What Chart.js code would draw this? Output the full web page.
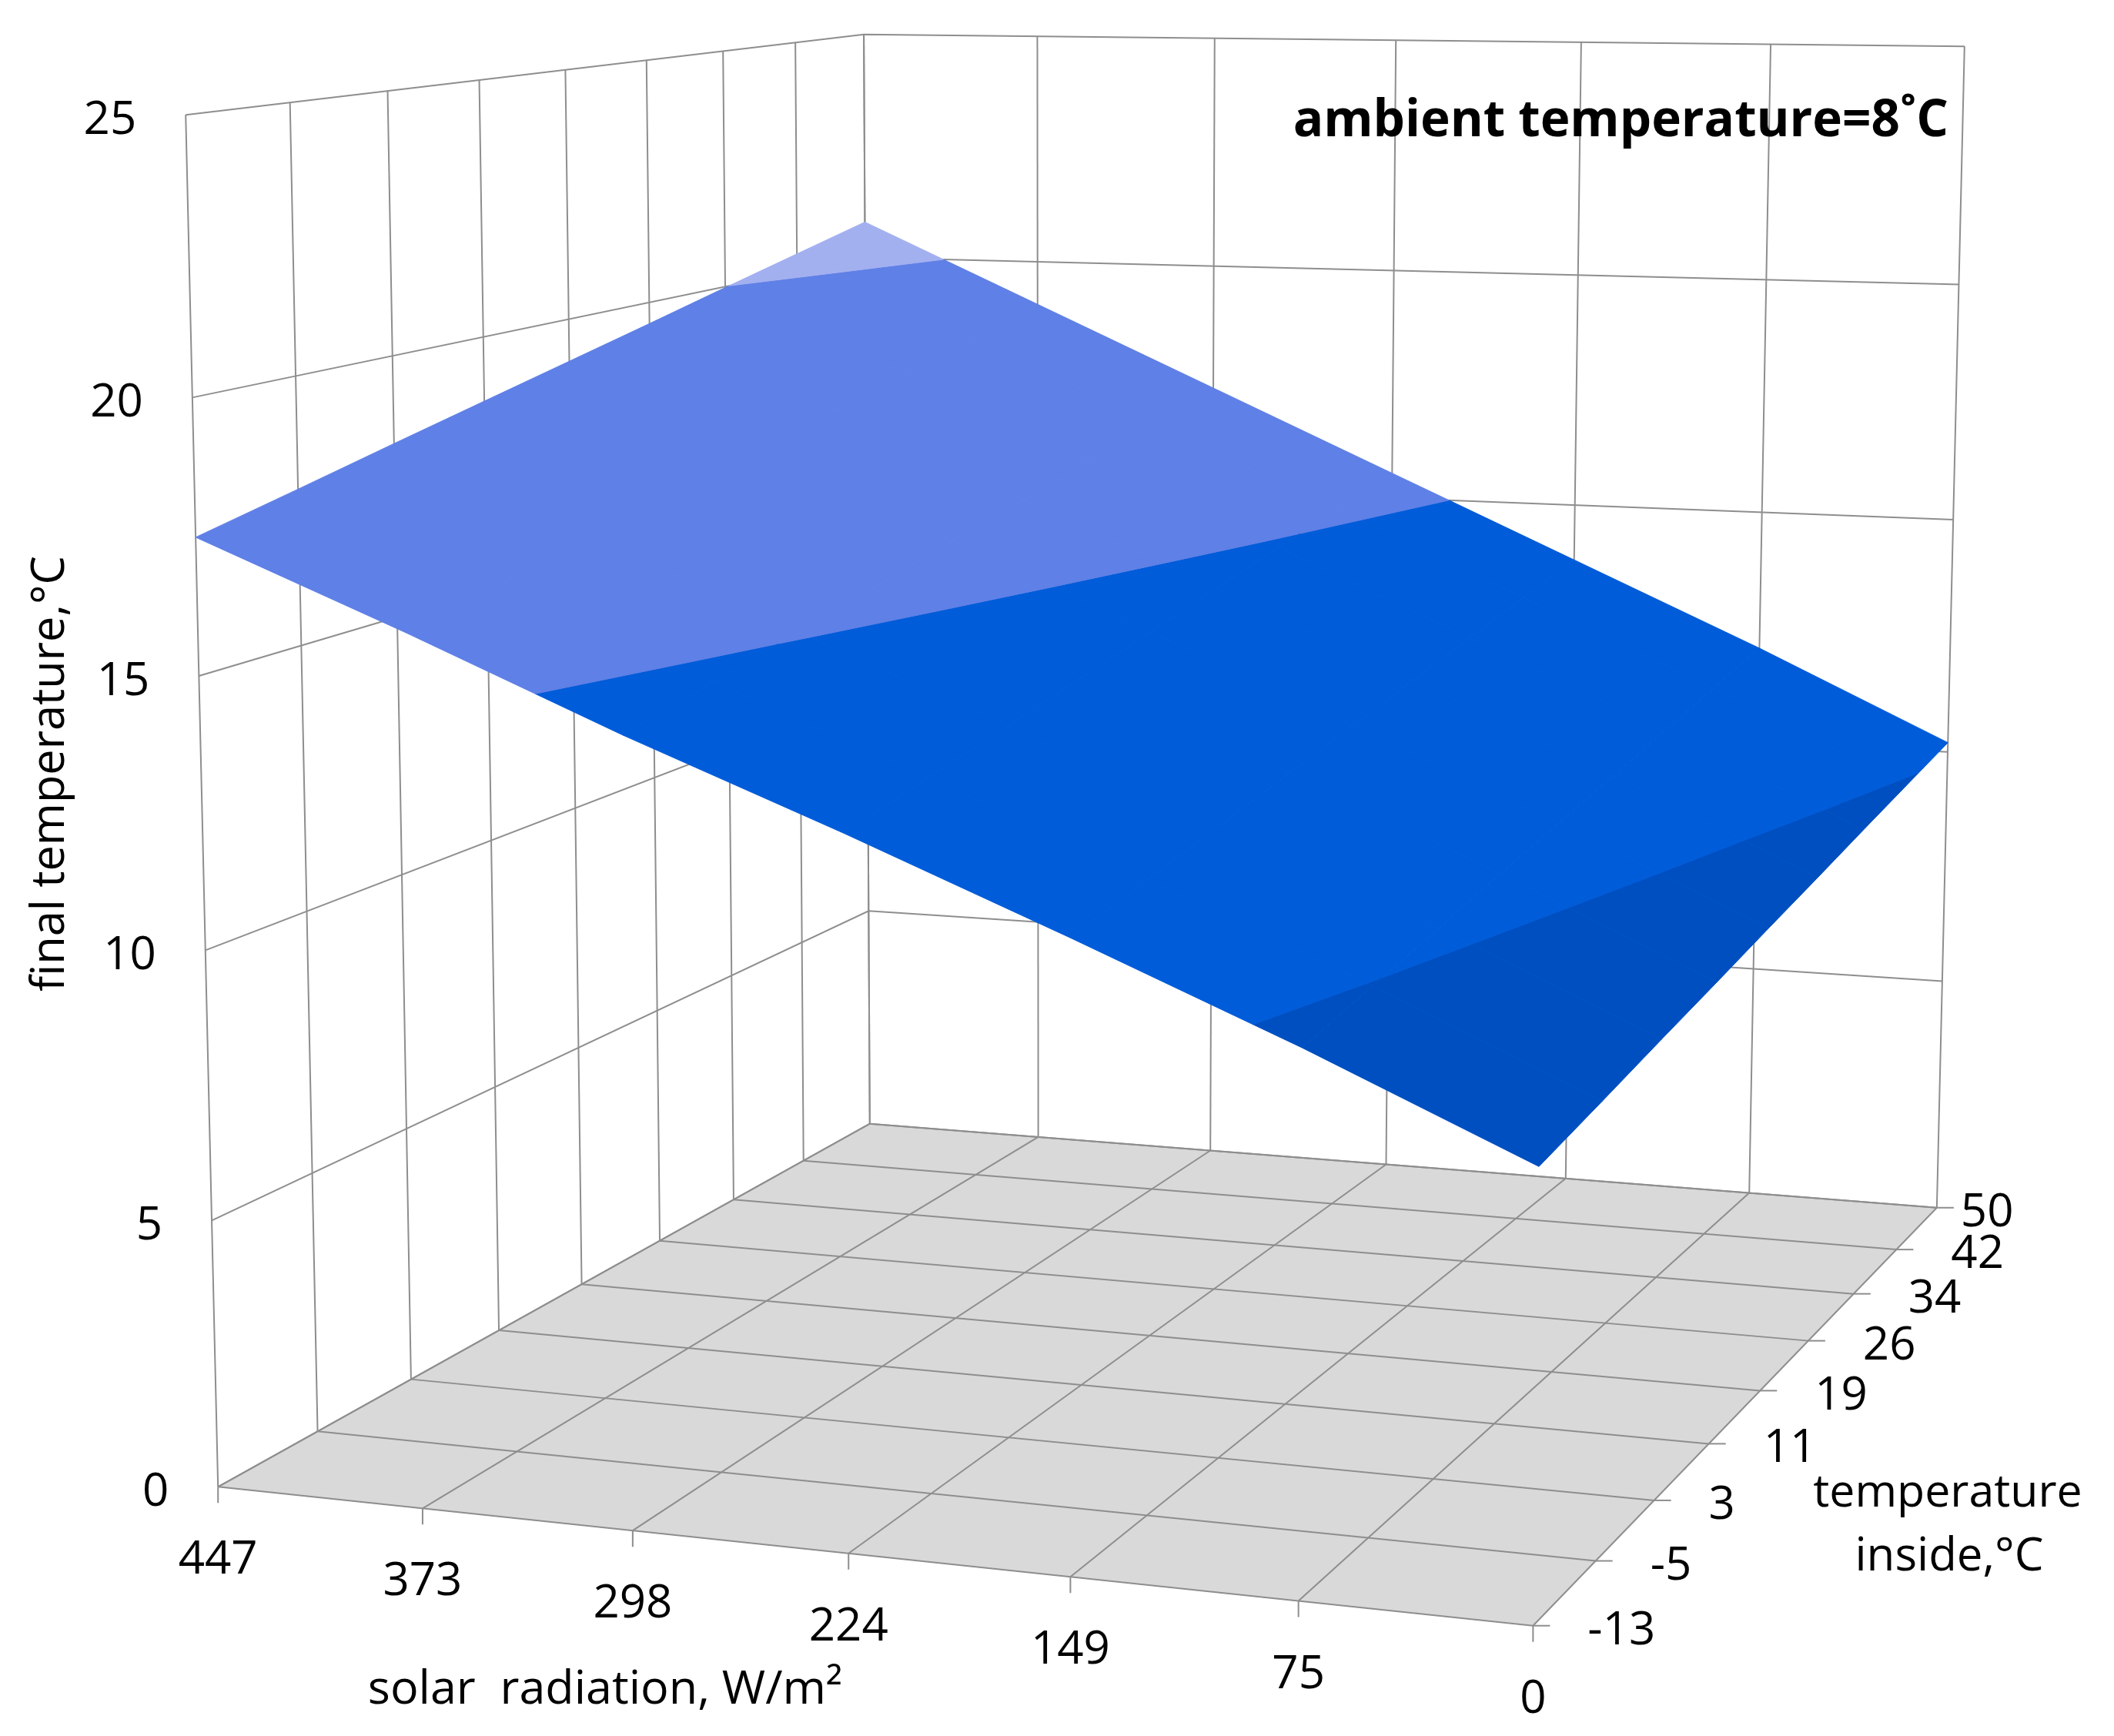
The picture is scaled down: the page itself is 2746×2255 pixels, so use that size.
<!DOCTYPE html>
<html>
<head>
<meta charset="utf-8">
<style>
    html, body { margin: 0; padding: 0; background: #fff; }
    canvas { display: block; }
</style>
<script src="https://cdn.jsdelivr.net/npm/chart.js@4/dist/chart.umd.min.js"></script>
</head>
<body>
<canvas id="chart" width="2746" height="2255"></canvas>
<script>
const solarLabels = ['447', '373', '298', '224', '149', '75', '0']
const insideLabels = ['-13', '-5', '3', '11', '19', '26', '34', '42', '50']
const finalTicks = [0, 5, 10, 15, 20, 25]

// final temperature per solar radiation row, inside temperature column
const finalAt447 = [17.5, 17.91, 18.33, 18.74, 19.15, 19.56, 19.98, 20.39, 20.8]
const finalAt373 = [15.96, 16.35, 16.73, 17.12, 17.5, 17.89, 18.27, 18.66, 19.05]
const finalAt298 = [14.35, 14.72, 15.09, 15.46, 15.83, 16.19, 16.56, 16.93, 17.3]
const finalAt224 = [12.85, 13.19, 13.53, 13.86, 14.2, 14.54, 14.88, 15.21, 15.55]
const finalAt149 = [11.28, 11.6, 11.91, 12.23, 12.54, 12.86, 13.17, 13.49, 13.8]
const finalAt75 = [9.66, 9.96, 10.26, 10.56, 10.86, 11.15, 11.45, 11.75, 12.05]
const finalAt0 = [7.93, 8.21, 8.5, 8.78, 9.07, 9.35, 9.64, 9.92, 10.2]
const surface = [finalAt447, finalAt373, finalAt298, finalAt224, finalAt149, finalAt75, finalAt0]

const bandColors = ['#0047ad', '#004fc1', '#005cd9', '#5f80e6', '#a3b0f0']

const WIDTH = 2746
const HEIGHT = 2255
const FONT = '"Open Sans"'
const GRID_COLOR = '#8e8e8e'
const FLOOR_COLOR = '#d9d9d9'
const LAST_SOLAR = solarLabels.length - 1
const LAST_INSIDE = insideLabels.length - 1
const TOP = finalTicks[finalTicks.length - 1]

// view calibration: [solar index, inside index, final temp] -> where the box corner sits on the page
const viewAnchors = [
    [0, 0, 0, 284, 1932],
    [LAST_SOLAR, 0, 0, 1991.5, 2111],
    [LAST_SOLAR, LAST_INSIDE, 0, 2515, 1571],
    [0, LAST_INSIDE, 0, 1130, 1459],
    [0, 0, TOP, 240.5, 149.5],
    [0, LAST_INSIDE, TOP, 1122, 45],
    [LAST_SOLAR, LAST_INSIDE, TOP, 2553, 66],
    [0, 0, 20, 249.6, 516],
    [LAST_SOLAR, LAST_INSIDE, 20, 2544, 362],
]

function solveCamera(anchors) {
    const size = 11
    const ata = Array.from({ length: size }, () => new Array(size + 1).fill(0))
    const addRow = (row, rhs) => {
        for (let r = 0; r < size; r++) {
            for (let c = 0; c < size; c++) ata[r][c] += row[r] * row[c]
            ata[r][size] += row[r] * rhs
        }
    }
    for (const [a, b, c, u, v] of anchors) {
        addRow([a, b, c, 1, 0, 0, 0, 0, -u * a, -u * b, -u * c], u)
        addRow([0, 0, 0, 0, a, b, c, 1, -v * a, -v * b, -v * c], v)
    }
    for (let col = 0; col < size; col++) {
        let pivot = col
        for (let r = col + 1; r < size; r++) {
            if (Math.abs(ata[r][col]) > Math.abs(ata[pivot][col])) pivot = r
        }
        ;[ata[col], ata[pivot]] = [ata[pivot], ata[col]]
        for (let r = 0; r < size; r++) {
            if (r === col) continue
            const f = ata[r][col] / ata[col][col]
            for (let c = col; c <= size; c++) ata[r][c] -= f * ata[col][c]
        }
    }
    return ata.map((row, i) => row[size] / row[i])
}

const cam = solveCamera(viewAnchors)

function project(a, b, c) {
    const w = cam[8] * a + cam[9] * b + cam[10] * c + 1
    return {
        x: (cam[0] * a + cam[1] * b + cam[2] * c + cam[3]) / w,
        y: (cam[4] * a + cam[5] * b + cam[6] * c + cam[7]) / w,
    }
}

function lineSet(points, color = GRID_COLOR, width = 2) {
    return {
        data: points,
        showLine: true,
        fill: false,
        borderColor: color,
        borderWidth: width,
        pointRadius: 0,
    }
}

function shapeSet(points, color) {
    return {
        data: [...points, points[0]],
        showLine: true,
        fill: 'shape',
        backgroundColor: color,
        borderColor: color,
        borderWidth: 1,
        pointRadius: 0,
    }
}

// keep the part of a cell polygon on one side of a final temperature level
function clipLevel(poly, level, keepAbove) {
    const inside = (p) => (keepAbove ? p[2] >= level : p[2] <= level)
    const out = []
    poly.forEach((p, n) => {
        const q = poly[(n + 1) % poly.length]
        if (inside(p)) out.push(p)
        if (inside(p) !== inside(q)) {
            const t = (level - p[2]) / (q[2] - p[2])
            out.push(p.map((v, k) => v + (q[k] - v) * t))
        }
    })
    return out
}

function surfaceSets() {
    const sets = []
    for (let i = 0; i < LAST_SOLAR; i++) {
        for (let j = 0; j < LAST_INSIDE; j++) {
            const cell = [
                [i, j, surface[i][j]],
                [i + 1, j, surface[i + 1][j]],
                [i + 1, j + 1, surface[i + 1][j + 1]],
                [i, j + 1, surface[i][j + 1]],
            ]
            bandColors.forEach((color, band) => {
                let part = clipLevel(cell, finalTicks[band], true)
                if (part.length) part = clipLevel(part, finalTicks[band + 1], false)
                if (part.length > 2) {
                    sets.push(shapeSet(part.map((p) => project(p[0], p[1], p[2])), color))
                }
            })
        }
    }
    return sets
}

function boxSets() {
    const sets = []
    sets.push(
        shapeSet(
            [
                project(0, 0, 0),
                project(LAST_SOLAR, 0, 0),
                project(LAST_SOLAR, LAST_INSIDE, 0),
                project(0, LAST_INSIDE, 0),
            ],
            FLOOR_COLOR,
        ),
    )
    // floor grid and the upright lines on both walls
    solarLabels.forEach((_, i) => {
        sets.push(lineSet([project(i, 0, 0), project(i, LAST_INSIDE, 0)]))
        sets.push(lineSet([project(i, LAST_INSIDE, 0), project(i, LAST_INSIDE, TOP)]))
        const foot = project(i, 0, 0)
        sets.push(lineSet([foot, { x: foot.x, y: foot.y + 21 }]))
    })
    insideLabels.forEach((_, j) => {
        sets.push(lineSet([project(0, j, 0), project(LAST_SOLAR, j, 0)]))
        sets.push(lineSet([project(0, j, 0), project(0, j, TOP)]))
        const foot = project(LAST_SOLAR, j, 0)
        sets.push(lineSet([foot, { x: foot.x + 22, y: foot.y }]))
    })
    finalTicks.forEach((level) => {
        sets.push(
            lineSet([
                project(0, 0, level),
                project(0, LAST_INSIDE, level),
                project(LAST_SOLAR, LAST_INSIDE, level),
            ]),
        )
    })
    return sets
}

const labelPlugin = {
    id: 'boxLabels',
    afterDatasetsDraw(chart) {
        const { ctx, scales } = chart
        const put = (text, p, dx, dy, align, size = 60, weight = '') => {
            ctx.font = `${weight} ${size}px ${FONT}`
            ctx.textAlign = align
            ctx.textBaseline = 'middle'
            ctx.fillStyle = '#000'
            ctx.fillText(
                text,
                scales.x.getPixelForValue(p.x) + dx,
                scales.y.getPixelForValue(p.y) + dy,
            )
        }
        ctx.save()
        finalTicks.forEach((level) => {
            put(String(level), project(0, 0, level), -64, 8, 'right')
        })
        solarLabels.forEach((label, i) => {
            put(label, project(i, 0, 0), 0, 96, 'center')
        })
        insideLabels.forEach((label, j) => {
            const dx = j === LAST_INSIDE ? 31 : 71
            put(label, project(LAST_SOLAR, j, 0), dx, 7, 'left')
        })
        const page = (x, y) => ({ x, y })
        put('ambient temperature=8˚C', page(2531, 158), 0, 0, 'right', 65.5, 'bold')
        put('solar  radiation, W/m²', page(786, 2196), 0, 0, 'center', 61)
        put('temperature', page(2530, 1940), 0, 0, 'center', 59)
        put('inside,°C', page(2532, 2023), 0, 0, 'center', 60)
        ctx.translate(scales.x.getPixelForValue(66), scales.y.getPixelForValue(1005))
        ctx.rotate(-Math.PI / 2)
        put('final temperature,°C', page(0, 0), 0, 0, 'center', 59.5)
        ctx.restore()
    },
}

new Chart(document.getElementById('chart'), {
    type: 'scatter',
    data: { datasets: [...boxSets(), ...surfaceSets()].reverse() },
    options: {
        responsive: false,
        animation: false,
        layout: { padding: 0 },
        plugins: { legend: { display: false }, tooltip: { enabled: false } },
        scales: {
            x: { type: 'linear', display: false, min: 0, max: WIDTH },
            y: { type: 'linear', display: false, min: 0, max: HEIGHT, reverse: true },
        },
    },
    plugins: [labelPlugin],
})
</script>
</body>
</html>
